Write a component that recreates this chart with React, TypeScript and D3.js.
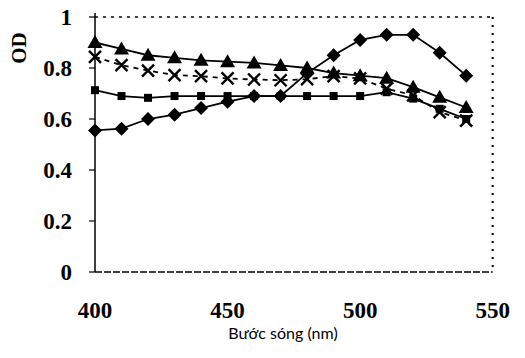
import React, { useRef, useEffect } from "react";
import * as d3 from "d3";

const wavelengths = [400, 410, 420, 430, 440, 450, 460, 470, 480, 490, 500, 510, 520, 530, 540];
const diamondSeries = [0.555, 0.562, 0.6, 0.617, 0.643, 0.668, 0.69, 0.69, 0.78, 0.85, 0.91, 0.93, 0.93, 0.86, 0.77];
const squareSeries = [0.713, 0.69, 0.683, 0.69, 0.69, 0.69, 0.69, 0.69, 0.69, 0.69, 0.69, 0.705, 0.68, 0.64, 0.6];
const triangleSeries = [0.9, 0.875, 0.85, 0.84, 0.83, 0.825, 0.82, 0.81, 0.8, 0.78, 0.77, 0.76, 0.725, 0.685, 0.645];
const crossSeries = [0.844, 0.811, 0.79, 0.772, 0.768, 0.759, 0.755, 0.752, 0.756, 0.768, 0.759, 0.719, 0.693, 0.627, 0.594];
const xTicks = [400, 450, 500, 550];
const yTicks = [0, 0.2, 0.4, 0.6, 0.8, 1];

const Chart: React.FC = () => {
  const ref = useRef<SVGSVGElement | null>(null);

  useEffect(() => {
    const width = 525;
    const height = 358;
    const left = 95, right = 492.7, top = 17, bottom = 272;

    const svg = d3.select(ref.current);
    svg.selectAll("*").remove();
    svg.attr("width", width).attr("height", height).style("display", "block");

    const x = d3.scaleLinear().domain([400, 550]).range([left, right]);
    const y = d3.scaleLinear().domain([0, 1]).range([bottom, top]);

    // frame: dotted top/right, dashed bottom, solid left
    svg.append("line").attr("x1", left).attr("x2", right).attr("y1", top).attr("y2", top)
      .attr("stroke", "#000").attr("stroke-width", 1.5).attr("stroke-dasharray", "3,5");
    svg.append("line").attr("x1", right).attr("x2", right).attr("y1", top).attr("y2", bottom)
      .attr("stroke", "#000").attr("stroke-width", 2).attr("stroke-dasharray", "2,6");
    svg.append("line").attr("x1", left).attr("x2", right).attr("y1", bottom).attr("y2", bottom)
      .attr("stroke", "#000").attr("stroke-width", 1.5).attr("stroke-dasharray", "7,2");
    svg.append("line").attr("x1", left).attr("x2", left).attr("y1", top - 4).attr("y2", bottom)
      .attr("stroke", "#000").attr("stroke-width", 1.5);

    const font = "'Liberation Serif', 'Times New Roman', serif";

    // y ticks
    const yt = svg.append("g");
    yt.selectAll("line").data(yTicks).join("line")
      .attr("x1", left - 6).attr("x2", left).attr("y1", (d) => y(d)).attr("y2", (d) => y(d))
      .attr("stroke", "#000").attr("stroke-width", 1.2);
    yt.selectAll("text").data(yTicks).join("text")
      .attr("x", 72).attr("y", (d) => y(d) + 8)
      .attr("text-anchor", "end")
      .style("font", `bold 23px ${font}`)
      .text((d) => (d === 0 || d === 1 ? String(d) : d.toFixed(1)));

    // x ticks
    svg.append("g").selectAll("text").data(xTicks).join("text")
      .attr("x", (d) => x(d)).attr("y", 318)
      .attr("text-anchor", "middle")
      .style("font", `bold 23px ${font}`)
      .text((d) => d);

    svg.append("text")
      .attr("x", 283).attr("y", 339)
      .attr("text-anchor", "middle")
      .style("font", "16px Lato, sans-serif")
      .text("Bước sóng (nm)");

    svg.append("text")
      .attr("transform", "translate(26,48) rotate(-90)")
      .attr("text-anchor", "middle")
      .style("font", `bold 21px ${font}`)
      .text("OD");

    const line = (vals: number[]) =>
      d3.line<number>().x((_, i) => x(wavelengths[i])).y((d) => y(d))(vals);

    // squares
    svg.append("path").attr("d", line(squareSeries)).attr("fill", "none")
      .attr("stroke", "#000").attr("stroke-width", 1.8);
    svg.append("g").selectAll("rect").data(squareSeries).join("rect")
      .attr("x", (_, i) => x(wavelengths[i]) - 4).attr("y", (d) => y(d) - 4)
      .attr("width", 8).attr("height", 8).attr("fill", "#000");

    // crosses (dashed)
    svg.append("path").attr("d", line(crossSeries)).attr("fill", "none")
      .attr("stroke", "#000").attr("stroke-width", 1.8).attr("stroke-dasharray", "5,5");
    const cs = svg.append("g");
    crossSeries.forEach((v, i) => {
      const cx = x(wavelengths[i]), cy = y(v), r = 6;
      cs.append("path")
        .attr("d", `M${cx - r},${cy - r}L${cx + r},${cy + r}M${cx - r},${cy + r}L${cx + r},${cy - r}`)
        .attr("stroke", "#000").attr("stroke-width", 2.4).attr("fill", "none");
    });

    // triangles
    svg.append("path").attr("d", line(triangleSeries)).attr("fill", "none")
      .attr("stroke", "#000").attr("stroke-width", 1.8);
    svg.append("g").selectAll("path").data(triangleSeries).join("path")
      .attr("d", (d, i) => {
        const cx = x(wavelengths[i]), cy = y(d);
        return `M${cx},${cy - 7.5}L${cx + 7.5},${cy + 5.5}L${cx - 7.5},${cy + 5.5}Z`;
      })
      .attr("fill", "#000");

    // diamonds
    svg.append("path").attr("d", line(diamondSeries)).attr("fill", "none")
      .attr("stroke", "#000").attr("stroke-width", 1.8);
    svg.append("g").selectAll("path").data(diamondSeries).join("path")
      .attr("d", (d, i) => {
        const cx = x(wavelengths[i]), cy = y(d), r = 7;
        return `M${cx},${cy - r}L${cx + r},${cy}L${cx},${cy + r}L${cx - r},${cy}Z`;
      })
      .attr("fill", "#000");
  }, []);

  return <svg ref={ref}></svg>;
};

export default function App() {
  return (
    <div style={{ margin: -8 }}>
      <Chart />
    </div>
  );
}
